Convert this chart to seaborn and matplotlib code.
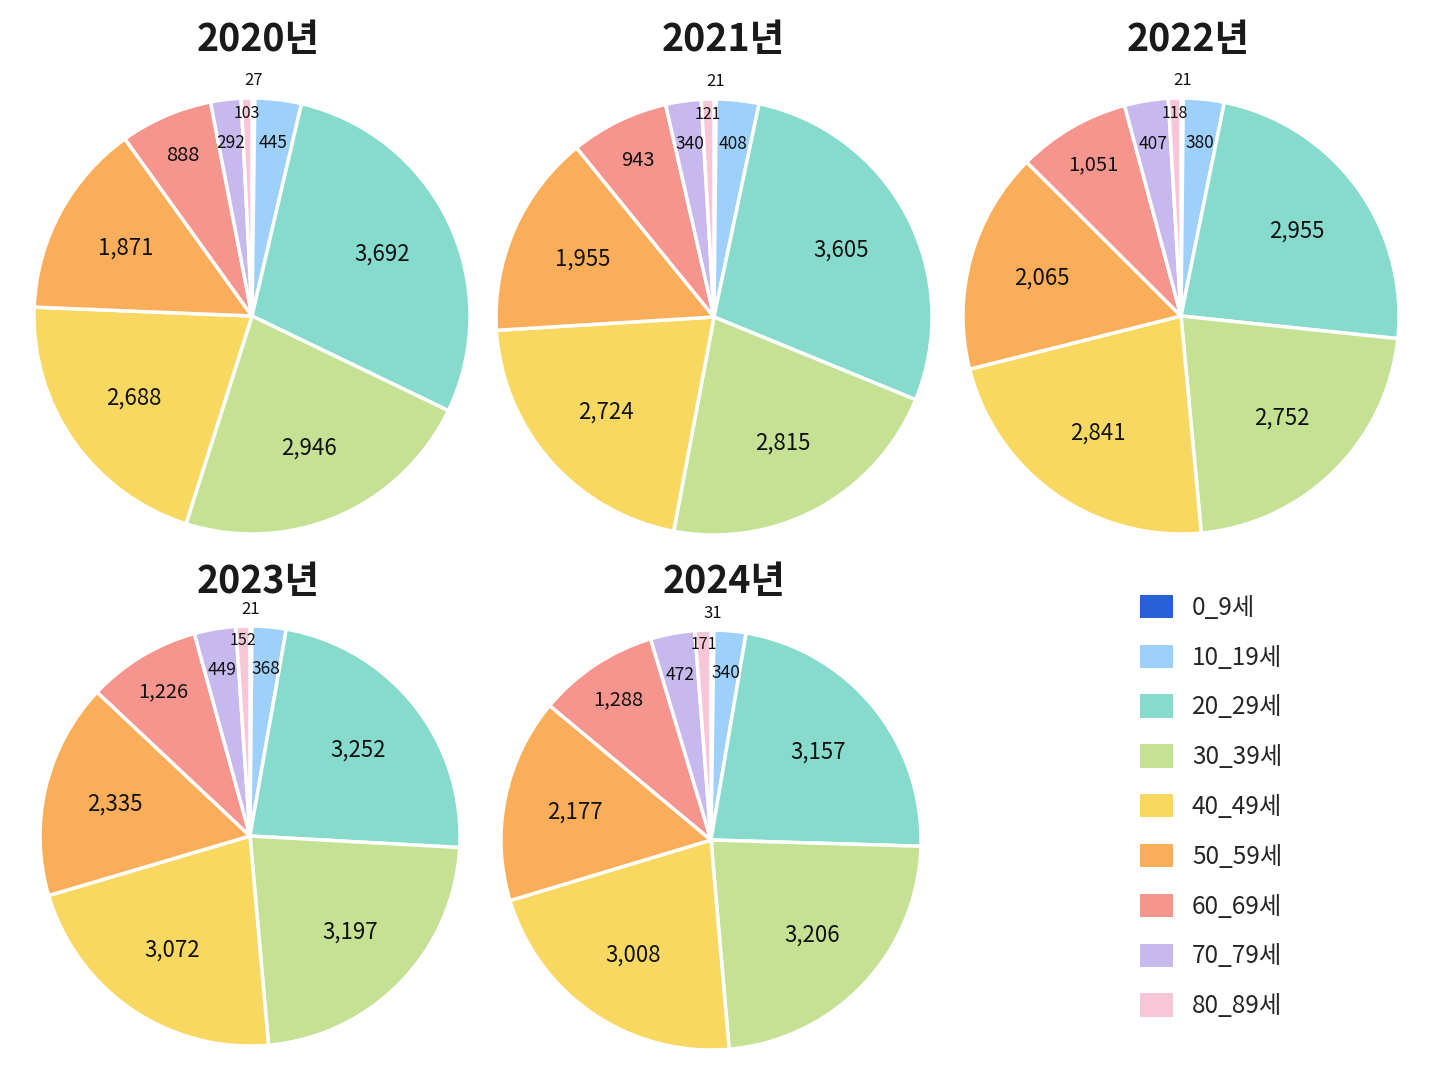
import matplotlib
matplotlib.use("Agg")
import matplotlib.pyplot as plt
import matplotlib.patches as mpatches
import numpy as np
import seaborn as sns

# 연령대별 데이터
age_groups = ["0_9세", "10_19세", "20_29세", "30_39세", "40_49세",
              "50_59세", "60_69세", "70_79세", "80_89세"]
years = ["2020년", "2021년", "2022년", "2023년", "2024년"]
v2020 = [27, 445, 3692, 2946, 2688, 1871, 888, 292, 103]
v2021 = [21, 408, 3605, 2815, 2724, 1955, 943, 340, 121]
v2022 = [21, 380, 2955, 2752, 2841, 2065, 1051, 407, 118]
v2023 = [21, 368, 3252, 3197, 3072, 2335, 1226, 449, 152]
v2024 = [31, 340, 3157, 3206, 3008, 2177, 1288, 472, 171]
values = [v2020, v2021, v2022, v2023, v2024]

colors = ["#2860d8", "#9dd0fb", "#86dbcc", "#c4e194", "#f9d862",
          "#fbae5a", "#f6958d", "#c7b8ee", "#f8c6d6"]

sns.set_theme(style="white")
plt.rcParams["font.family"] = ["Noto Sans CJK KR", "DejaVu Sans"]
palette = sns.color_palette(colors)

W, H = 1448, 1086
fig = plt.figure(figsize=(W / 100, H / 100), dpi=100)
fig.patch.set_facecolor("white")

# (center x, center y, radius) in pixels, y from top
layout = [(252, 316, 218), (714, 317, 218), (1181, 316, 218),
          (250, 836, 210), (711, 840, 210)]
title_pos = [(258, 39), (723, 39), (1188, 39), (258, 581), (724, 581)]


def label_style(frac):
    # returns (radius, fontsize)
    if frac < 0.005:
        return 1.08, 12
    if frac < 0.015:
        return 0.93, 11.5
    if frac < 0.05:
        return 0.80, 12.5
    if frac < 0.1:
        return 0.80, 14.5
    return 0.66, 16


for i, (vals, year) in enumerate(zip(values, years)):
    cx, cy, r = layout[i]
    half = r * 1.15
    ax = fig.add_axes([(cx - half) / W, (H - cy - half) / H, 2 * half / W, 2 * half / H])
    wedges, _ = ax.pie(vals, colors=palette, startangle=90, counterclock=False,
                       wedgeprops=dict(edgecolor="white", linewidth=2.5))
    ax.set_xlim(-1.15, 1.15)
    ax.set_ylim(-1.15, 1.15)
    ax.set_aspect("equal")
    ax.axis("off")
    total = sum(vals)
    for w, v in zip(wedges, vals):
        ang = np.deg2rad((w.theta1 + w.theta2) / 2)
        rr, fs = label_style(v / total)
        ax.text(rr * np.cos(ang), rr * np.sin(ang), f"{v:,}",
                ha="center", va="center", fontsize=fs, color="#111111")
    tx, ty = title_pos[i]
    fig.text(tx / W, 1 - ty / H, year, ha="center", va="center",
             fontsize=27, fontweight="bold", color="#1a1a1a")

handles = [mpatches.Patch(facecolor=c, edgecolor="none", label=g)
           for c, g in zip(palette, age_groups)]
fig.legend(handles=handles, loc="upper left", bbox_to_anchor=(1130 / W, 1 - 585 / H),
           frameon=False, fontsize=17.5, labelspacing=0.98, handlelength=1.35,
           handleheight=1.1, handletextpad=0.8, borderaxespad=0)

fig.savefig("out.png", dpi=100, facecolor="white")
